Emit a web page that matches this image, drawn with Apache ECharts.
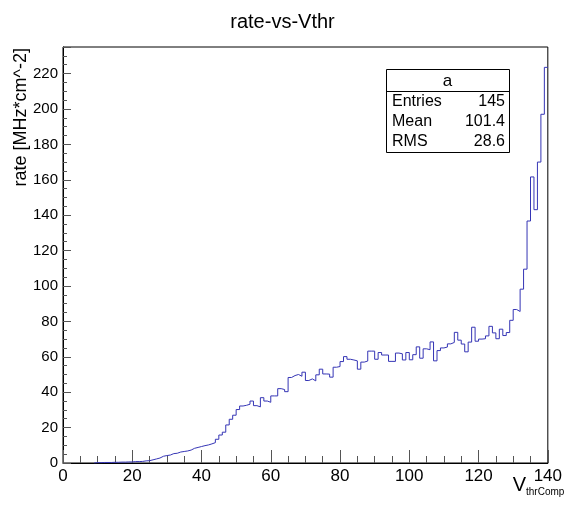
<!DOCTYPE html>
<html><head><meta charset="utf-8">
<script src="https://cdn.jsdelivr.net/npm/echarts@6/dist/echarts.min.js"></script>
<style>html,body{margin:0;padding:0;background:#fff}#c{width:565px;height:512px}</style>
</head><body><div id="c"></div>
<script>
// ---- data ----
const chartTitle = 'rate-vs-Vthr';
const yTitle = 'rate [MHz*cm^-2]';
const xTitleMain = 'V';
const xTitleSub = 'thrComp';
const firstBin = 9;
const binWidth = 1;
const rates = [
  0.2, 0.2, 0.3, 0.3, 0.3, 0.4, 0.4, 0.5, 0.5, 0.6, 0.6,          // 9-19
  0.8, 0.8, 0.9, 1.2, 1.3, 1.8, 2.3, 2.8, 3.8, 4.2,               // 20-29
  4.5, 5.3, 5.5, 6.2, 6.5, 6.8, 7.3, 8.3, 8.8, 9.3,               // 30-39
  9.8, 10.2, 10.8, 11.5, 13.4, 15.8, 17.4, 21.5, 24.7, 27,        // 40-49
  30.2, 32.2, 32.6, 33.2, 35, 32.4, 31.7, 36.9, 35, 34.3,         // 50-59
  37.9, 37.9, 42, 41.5, 40.3, 48.3, 49.4, 50, 49, 51.3,           // 60-69
  46.6, 47.5, 46.4, 49.8, 53, 50.3, 50.2, 48.5, 54.1, 54.5,       // 70-79
  57.3, 60.1, 58.6, 58.2, 57.7, 53, 57, 57.6, 63.2, 63.2,         // 80-89
  58.6, 62.4, 61, 61, 57.4, 57.4, 62.1, 61.7, 58.2, 62.4,         // 90-99
  58.3, 61.2, 65.6, 59.2, 64.5, 64, 68.4, 57.7, 63.5, 65,         // 100-109
  65.5, 67.3, 68.1, 73.8, 69.4, 67.2, 62.8, 68.3, 76.7, 68.8,     // 110-119
  70, 70.2, 71.8, 77.2, 73.5, 70.2, 75.6, 72, 73.7, 80.6,         // 120-129
  86.7, 85.6, 98.2, 109.5, 136.7, 161.6, 143.1, 170, 197, 223.5   // 130-139
];
const xTickLabels = [0, 20, 40, 60, 80, 100, 120, 140];
const yTickLabels = [0, 20, 40, 60, 80, 100, 120, 140, 160, 180, 200, 220];
const statsName = 'a';
const statsKeys = ['Entries', 'Mean', 'RMS'];
const statsVals = ['145', '101.4', '28.6'];

// ---- build ----
const pts = [[firstBin, 0]];
rates.forEach((v, i) => {
  const x0 = firstBin + i * binWidth;
  pts.push([x0, v], [x0 + binWidth, v]);
});

const FONT = '"Liberation Sans", Arial, Helvetica, sans-serif';
const chart = echarts.init(document.getElementById('c'), null, {renderer: 'canvas'});

const box = {x: 386, y: 69, w: 123, h: 83, head: 22, row: 20};
const graphics = [
  {type: 'text', x: 21, y: 48, rotation: Math.PI / 2,
   style: {text: yTitle, font: '18px ' + FONT, fill: '#000', align: 'right', verticalAlign: 'middle'}},
  {type: 'text', x: 526, y: 485,
   style: {text: xTitleMain, font: '20px ' + FONT, fill: '#000', align: 'right', verticalAlign: 'middle'}},
  {type: 'text', x: 526, y: 492,
   style: {text: xTitleSub, font: '10px ' + FONT, fill: '#000', align: 'left', verticalAlign: 'middle'}},
  {type: 'rect', shape: {x: box.x + 0.5, y: box.y + 0.5, width: box.w, height: box.h},
   style: {fill: '#fff', stroke: '#000', lineWidth: 1}, z: 10},
  {type: 'line', shape: {x1: box.x, y1: box.y + box.head + 0.5, x2: box.x + box.w, y2: box.y + box.head + 0.5},
   style: {stroke: '#000', lineWidth: 1}, z: 11},
  {type: 'text', x: box.x + box.w / 2, y: box.y + box.head / 2 + 1, z: 11,
   style: {text: statsName, font: '17px ' + FONT, fill: '#000', align: 'center', verticalAlign: 'middle'}}
];
statsKeys.forEach((k, i) => {
  const yy = box.y + box.head + box.row * (i + 0.5) + 1;
  graphics.push({type: 'text', x: box.x + 6, y: yy, z: 11,
    style: {text: k, font: '16px ' + FONT, fill: '#000', align: 'left', verticalAlign: 'middle'}});
  graphics.push({type: 'text', x: box.x + box.w - 4, y: yy, z: 11,
    style: {text: statsVals[i], font: '16px ' + FONT, fill: '#000', align: 'right', verticalAlign: 'middle'}});
});

const option = {
  animation: false,
  backgroundColor: '#fff',
  title: {text: chartTitle, left: 'center', top: 7,
    textStyle: {fontSize: 20, fontWeight: 'normal', color: '#000', fontFamily: FONT}},
  grid: {left: 63, right: 17, top: 47, bottom: 49, show: true, borderColor: '#000', borderWidth: 1,
    backgroundColor: 'transparent', containLabel: false},
  xAxis: [{
    type: 'value', min: 0, max: 140, interval: 20,
    axisLine: {show: true, lineStyle: {color: '#000', width: 1}},
    axisTick: {show: true, inside: true, length: 13, lineStyle: {color: '#555'}},
    minorTick: {show: true, splitNumber: 4, length: 7, lineStyle: {color: '#555'}},
    splitLine: {show: false},
    axisLabel: {show: true, margin: 5, color: '#000', fontSize: 17, fontFamily: FONT,
      formatter: v => xTickLabels.includes(v) ? String(v) : ''}
  }],
  yAxis: [{
    type: 'value', min: 0, max: 235, interval: 5, position: 'left',
    axisLine: {show: true, lineStyle: {color: '#000', width: 1}},
    axisTick: {show: true, inside: true, length: 4, lineStyle: {color: '#555'}},
    splitLine: {show: false},
    axisLabel: {show: true, interval: 0, margin: 5, color: '#000', fontSize: 15, fontFamily: FONT,
      formatter: v => yTickLabels.includes(v) ? String(v) : ''}
  }, {
    type: 'value', min: 0, max: 235, interval: 20, position: 'left', offset: 0,
    axisLine: {show: false},
    axisTick: {show: true, inside: true, length: 8, lineStyle: {color: '#555'}},
    splitLine: {show: false},
    axisLabel: {show: false}
  }],
  series: [{
    type: 'line', xAxisIndex: 0, yAxisIndex: 0, data: pts,
    symbol: 'none', showSymbol: false, clip: true,
    lineStyle: {color: '#3535b5', width: 1}
  }],
  graphic: graphics
};
chart.setOption(option);
</script>
</body></html>
